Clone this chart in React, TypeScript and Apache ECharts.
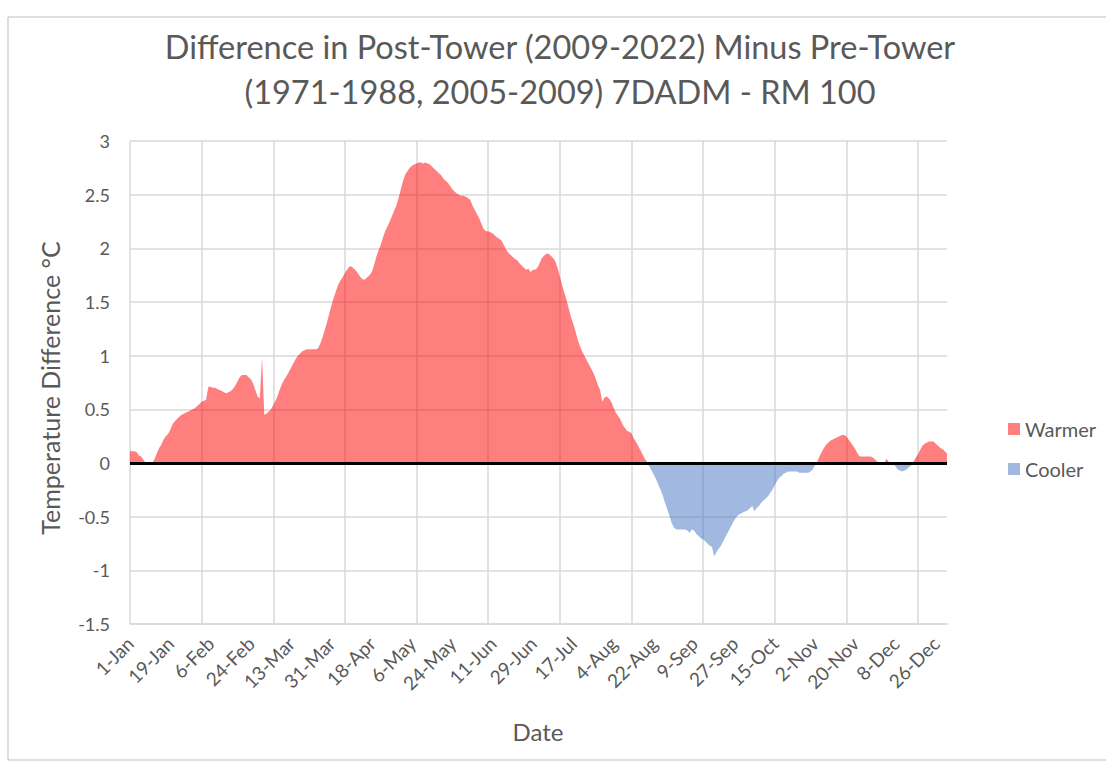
import React, { useEffect, useRef } from "react";
import * as echarts from "echarts";

// Daily 7DADM difference (°C), leap-year calendar, one array per month
const jan = [0.11,0.11,0.11,0.10,0.07,0.06,0.03,0,0,0,0,0.04,0.09,0.14,0.17,0.22,0.25,0.27,0.31,0.36,0.39,0.41,0.43,0.45,0.46,0.47,0.48,0.49,0.50,0.51,0.53];
const feb = [0.55,0.57,0.58,0.59,0.71,0.71,0.70,0.70,0.69,0.68,0.67,0.66,0.65,0.66,0.67,0.69,0.72,0.76,0.80,0.82,0.82,0.82,0.80,0.78,0.74,0.68,0.62,0.60,0.98];
const mar = [0.45,0.46,0.48,0.50,0.54,0.58,0.63,0.69,0.74,0.78,0.81,0.85,0.89,0.93,0.97,1.00,1.02,1.04,1.05,1.06,1.06,1.06,1.06,1.06,1.07,1.11,1.17,1.24,1.31,1.39,1.47];
const apr = [1.54,1.60,1.66,1.70,1.73,1.77,1.80,1.83,1.83,1.81,1.79,1.76,1.73,1.71,1.71,1.73,1.75,1.78,1.84,1.92,1.98,2.03,2.10,2.16,2.20,2.25,2.30,2.35,2.40,2.47];
const may = [2.55,2.63,2.69,2.72,2.75,2.77,2.78,2.79,2.80,2.80,2.79,2.80,2.79,2.78,2.76,2.74,2.72,2.70,2.68,2.65,2.63,2.61,2.58,2.55,2.53,2.51,2.50,2.49,2.49,2.48,2.47];
const jun = [2.45,2.40,2.36,2.32,2.28,2.23,2.18,2.16,2.16,2.15,2.14,2.12,2.10,2.09,2.07,2.03,1.99,1.96,1.94,1.92,1.90,1.89,1.86,1.84,1.82,1.80,1.81,1.78,1.80,1.80];
const jul = [1.82,1.86,1.91,1.93,1.95,1.95,1.93,1.91,1.88,1.82,1.74,1.66,1.59,1.52,1.44,1.36,1.30,1.23,1.15,1.09,1.04,1.00,0.96,0.92,0.88,0.84,0.79,0.73,0.68,0.57,0.61];
const aug = [0.62,0.60,0.57,0.52,0.47,0.44,0.41,0.36,0.33,0.30,0.29,0.28,0.23,0.20,0.16,0.12,0.08,0.04,0.01,-0.03,-0.07,-0.11,-0.15,-0.20,-0.25,-0.30,-0.37,-0.43,-0.49,-0.56,-0.60];
const sep = [-0.62,-0.62,-0.62,-0.62,-0.62,-0.63,-0.65,-0.62,-0.63,-0.66,-0.68,-0.70,-0.71,-0.73,-0.75,-0.77,-0.78,-0.87,-0.83,-0.80,-0.77,-0.73,-0.69,-0.65,-0.61,-0.57,-0.53,-0.50,-0.48,-0.47];
const oct = [-0.46,-0.45,-0.44,-0.42,-0.40,-0.45,-0.42,-0.40,-0.37,-0.35,-0.33,-0.31,-0.28,-0.25,-0.21,-0.17,-0.14,-0.12,-0.10,-0.09,-0.08,-0.08,-0.08,-0.08,-0.08,-0.09,-0.09,-0.09,-0.09,-0.09,-0.08];
const nov = [-0.06,-0.02,0.01,0.06,0.10,0.14,0.17,0.19,0.21,0.22,0.23,0.24,0.25,0.26,0.26,0.25,0.22,0.19,0.16,0.13,0.09,0.06,0.06,0.06,0.06,0.06,0.06,0.05,0.03,0.01];
const dec = [0,0,0,0.04,0.01,0,-0.01,-0.03,-0.06,-0.07,-0.08,-0.07,-0.06,-0.04,-0.02,0.01,0.05,0.08,0.12,0.16,0.18,0.19,0.20,0.20,0.20,0.18,0.16,0.14,0.13,0.11,0.09];

const monthNames = ["Jan","Feb","Mar","Apr","May","Jun","Jul","Aug","Sep","Oct","Nov","Dec"];
const monthly = [jan, feb, mar, apr, may, jun, jul, aug, sep, oct, nov, dec];

const titleLines = [
  "Difference in Post-Tower (2009-2022) Minus Pre-Tower",
  "(1971-1988, 2005-2009) 7DADM - RM 100",
];
const yAxisTitle = "Temperature Difference °C";
const xAxisTitle = "Date";
const seriesNames = ["Warmer", "Cooler"];

export default function App() {
  const ref = useRef<HTMLDivElement>(null);
  useEffect(() => {
    if (!ref.current) return;
    const chart = echarts.init(ref.current, null, { renderer: "svg" });
    const categories: string[] = [];
    const diff: number[] = [];
    monthly.forEach((arr, m) => {
      arr.forEach((v, d) => {
        categories.push(`${d + 1}-${monthNames[m]}`);
        diff.push(v);
      });
    });
    const warmer = diff.map((v) => (v > 0 ? v : 0));
    const cooler = diff.map((v) => (v < 0 ? v : 0));
    const font = "Lato, 'Open Sans', sans-serif";
    const gray = "#595959";
    chart.setOption({
      animation: false,
      backgroundColor: "#ffffff",
      textStyle: { fontFamily: font },
      grid: { left: 130, right: 159, top: 141, bottom: 147, containLabel: false },
      legend: {
        orient: "vertical",
        left: 1003,
        top: 414,
        itemWidth: 12,
        itemHeight: 12,
        itemGap: 20,
        icon: "rect",
        textStyle: { color: gray, fontSize: 20, fontFamily: font, lineHeight: 20 },
        data: seriesNames,
      },
      xAxis: {
        type: "category",
        data: categories,
        boundaryGap: false,
        axisLine: { show: true, onZero: false, lineStyle: { color: "#d9d9d9", width: 1.5 } },
        axisTick: { show: false },
        axisLabel: { interval: 17, rotate: 45, margin: 16, color: gray, fontSize: 19, fontFamily: font },
        splitLine: { show: true, interval: 31, lineStyle: { color: "#d9d9d9", width: 1.5 } },
      },
      yAxis: {
        type: "value",
        min: -1.5,
        max: 3,
        interval: 0.5,
        axisLine: { show: false },
        axisTick: { show: false },
        axisLabel: { color: gray, fontSize: 18, margin: 20, fontFamily: font },
        splitLine: { show: true, lineStyle: { color: "#d9d9d9", width: 1.5 } },
      },
      series: [
        {
          name: seriesNames[0],
          type: "line",
          data: warmer,
          showSymbol: false,
          symbol: "none",
          lineStyle: { width: 0 },
          itemStyle: { color: "rgba(255,0,0,0.5)" },
          areaStyle: { color: "rgba(255,0,0,0.5)", opacity: 1 },
          z: 2,
        },
        {
          name: seriesNames[1],
          type: "line",
          data: cooler,
          showSymbol: false,
          symbol: "none",
          lineStyle: { width: 0 },
          itemStyle: { color: "rgba(68,114,196,0.5)" },
          areaStyle: { color: "rgba(68,114,196,0.5)", opacity: 1 },
          z: 2,
          markLine: {
            silent: true,
            symbol: ["none", "none"],
            label: { show: false },
            lineStyle: { color: "#000000", width: 3, type: "solid" },
            data: [{ yAxis: 0 }],
            z: 5,
          },
        },
      ],
      graphic: [
        {
          type: "rect",
          silent: true,
          shape: { x: 8, y: 17, width: 1120, height: 743 },
          style: { fill: "none", stroke: "#bfbfbf", lineWidth: 1 },
          z: -10,
        },
        {
          type: "text",
          x: 560,
          y: 46,
          style: { text: titleLines[0], fill: gray, fontSize: 32.5, fontFamily: font, textAlign: "center", textVerticalAlign: "middle" },
        },
        {
          type: "text",
          x: 560,
          y: 91,
          style: { text: titleLines[1], fill: gray, fontSize: 32.5, fontFamily: font, textAlign: "center", textVerticalAlign: "middle" },
        },
        {
          type: "text",
          x: 50,
          y: 388,
          rotation: Math.PI / 2,
          style: { text: yAxisTitle, fill: gray, fontSize: 25, fontFamily: font, textAlign: "center", textVerticalAlign: "middle" },
        },
        {
          type: "text",
          x: 538,
          y: 731,
          style: { text: xAxisTitle, fill: gray, fontSize: 24, fontFamily: font, textAlign: "center", textVerticalAlign: "middle" },
        },
      ],
    });
    return () => chart.dispose();
  }, []);
  return (
    <div
      ref={ref}
      style={{ position: "fixed", left: 0, top: 0, width: 1106, height: 771, background: "#fff" }}
    />
  );
}
